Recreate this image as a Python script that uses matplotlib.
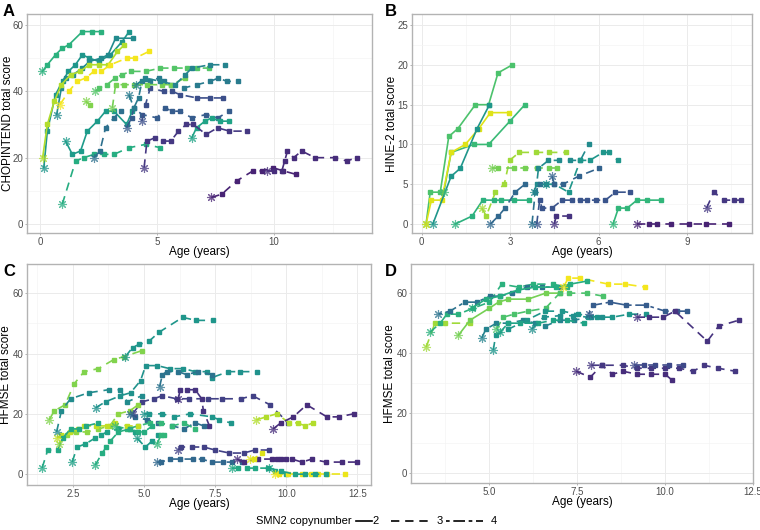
import numpy as np
import matplotlib
matplotlib.use("Agg")
import matplotlib.pyplot as plt
from matplotlib.lines import Line2D

plt.rcParams['font.family'] = ['Liberation Sans', 'DejaVu Sans']

# ---- panel A: CHOPINTEND ----
a_age = [
    [0.09, 0.3, 0.65, 0.94, 1.22, 1.8, 2.22, 2.58],
    [0.15, 0.3, 0.65, 0.95, 1.2, 1.5, 1.8, 2.1, 2.5, 3.0, 3.5, 3.8],
    [0.7, 0.9, 1.1, 1.4, 1.8, 2.1, 2.6, 2.9, 3.22, 3.97],
    [0.1, 0.3, 0.6, 0.9, 1.3, 1.7, 2.1, 2.5, 2.9, 3.3, 3.6],
    [0.84, 1.22, 1.58, 1.94, 2.29, 2.6, 3.0, 3.7, 4.06, 4.64],
    [1.08, 1.37, 1.72, 2.01, 2.44, 2.79, 3.15, 3.69, 3.93],
    [0.94, 1.51, 1.86, 2.3, 2.72, 3.15, 3.79, 4.5, 5.14],
    [2.29, 2.55, 2.79, 3.15, 3.43],
    [3.69, 3.9, 4.0, 4.35, 4.99, 5.34, 5.63, 5.98, 6.48, 7.09, 7.6, 8.06],
    [3.79, 4.0, 4.2, 4.35, 4.7, 5.06, 5.27, 5.6, 6.13, 6.7, 7.26, 7.62, 7.98, 8.47],
    [4.34, 4.5, 4.7, 5.27, 5.63, 5.98, 6.7, 7.26, 7.83],
    [2.36, 2.5, 2.85, 3.2, 3.5, 3.86, 4.5, 5.14, 5.71, 6.28, 6.7, 7.2],
    [1.94, 2.12],
    [3.08, 3.22, 3.58, 4.0, 4.57, 5.2, 5.6, 6.2],
    [4.1, 4.49, 5.13, 5.77, 6.2, 6.48, 7.26, 7.91],
    [6.48, 6.68, 7.04, 7.33, 7.69, 8.09],
    [4.44, 4.56, 4.91, 5.24, 5.58, 5.91, 6.24, 6.55, 7.09, 7.58, 8.09, 8.83],
    [7.31, 7.76, 8.4, 9.09, 9.5, 9.94, 10.4, 10.92],
    [9.69, 10.0, 10.33, 10.45, 10.57, 10.83, 11.18, 11.75, 12.61, 13.1, 13.53],
]
a_score = [
    [46, 48, 51, 53, 54, 58, 58, 58],
    [17, 28, 39, 43, 46, 48, 51, 50, 49, 51, 55, 58],
    [33, 41, 44, 45, 47, 49, 50, 51, 56, 56],
    [20, 30, 37, 42, 45, 46, 48, 48, 48, 52, 54],
    [36, 40, 43, 44, 46, 46, 48, 50, 50, 52],
    [25, 21, 22, 28, 31, 34, 34, 30, 34],
    [6, 19, 20, 21, 21, 21, 23, 24, 23],
    [20, 22, 29, 32, 34],
    [29, 32, 35, 33, 32, 35, 34, 34, 32, 33, 32, 34],
    [39, 35, 38, 43, 43, 44, 43, 42, 41, 42, 43, 44, 43, 43],
    [31, 36, 41, 40, 40, 39, 38, 38, 38],
    [40, 41, 42, 44, 45, 46, 46, 47, 47, 47, 47, 47],
    [37, 36],
    [35, 42, 42, 42, 42, 42, 42, 44],
    [42, 44, 43, 42, 45, 47, 48, 48],
    [26, 29, 31, 32, 31, 31],
    [17, 25, 26, 25, 25, 28, 30, 30, 27, 29, 28, 28],
    [8, 9, 13, 16, 16, 17, 16, 15],
    [16, 16, 16, 19, 22, 20, 22, 20, 20, 19, 20],
]
a_col = [0.62, 0.5, 0.45, 0.88, 0.98, 0.52, 0.6, 0.33, 0.25, 0.38, 0.2,
         0.72, 0.8, 0.78, 0.42, 0.56, 0.12, 0.05, 0.08]
a_copy = [2, 2, 2, 2, 3, 2, 3, 3, 3, 3, 3, 3, 3, 3, 3, 2, 3, 3, 3]

# ---- panel B: HINE-2 ----
b_age = [
    [0.15, 0.29, 0.63, 0.92, 1.23, 1.82, 2.27, 2.59, 3.07],
    [0.75, 1.0, 1.77, 2.27, 3.01, 3.5],
    [0.15, 0.33, 0.68, 1.0, 1.48, 1.94, 2.33, 2.95],
    [0.38, 1.0, 1.31, 1.88, 2.3],
    [1.14, 1.71, 2.07, 2.45, 2.7, 3.12, 3.63],
    [6.49, 6.67, 6.97, 7.3, 7.65, 8.1],
    [2.04, 2.19, 2.5, 2.8, 2.98, 3.31, 3.86, 4.31, 4.88],
    [2.39, 2.59, 3.12, 3.5, 3.92, 4.31, 4.6],
    [2.33, 2.6, 2.83, 3.17, 3.5],
    [3.8, 3.9, 3.96, 4.3, 4.64, 5.04, 5.38, 5.66],
    [4.2, 4.5, 4.98, 5.38, 5.7, 6.15, 6.34, 6.65],
    [4.42, 4.5, 4.79, 5.32, 6.0],
    [3.9, 4.0, 4.08, 4.42, 4.76, 5.1, 5.38, 5.6, 5.92, 6.23, 6.57, 7.08],
    [4.5, 4.56, 4.98],
    [3.74, 3.85, 4.0, 4.2],
    [7.3, 7.7, 7.98, 8.44, 9.06, 9.63, 10.42],
    [9.66, 9.9, 10.25, 10.6, 10.84],
]
b_score = [
    [0, 4, 4, 11, 12, 15, 15, 19, 20],
    [4, 9, 10, 10, 13, 15],
    [0, 3, 3, 9, 10, 12, 14, 14],
    [0, 6, 7, 12, 15],
    [0, 1, 3, 3, 3, 3, 3],
    [0, 2, 2, 3, 3, 3],
    [2, 1, 4, 5, 8, 9, 9, 9, 9],
    [7, 7, 7, 7, 7, 7, 7],
    [0, 1, 2, 4, 5],
    [4, 5, 7, 8, 8, 8, 8, 10],
    [5, 5, 4, 8, 8, 9, 9, 8],
    [6, 5, 5, 6, 7],
    [0, 3, 2, 2, 3, 3, 3, 3, 3, 3, 4, 4],
    [0, 1, 1],
    [0, 4, 5, 5],
    [0, 0, 0, 0, 0, 0, 0],
    [2, 4, 3, 3, 3],
]
b_col = [0.7, 0.66, 0.95, 0.5, 0.62, 0.64, 0.85, 0.78, 0.3, 0.45, 0.5,
         0.28, 0.22, 0.1, 0.34, 0.05, 0.12]
b_copy = [2, 2, 2, 2, 2, 2, 3, 3, 3, 3, 3, 3, 3, 3, 3, 3, 3]

# ---- panel C: HFMSE ----
c_age = [
    [4.35, 4.6, 4.82, 5.17, 5.52, 6.36, 6.83, 7.42],
    [1.67, 1.85, 2.23, 2.55, 2.9, 3.4, 3.94, 4.3, 4.94],
    [1.93, 2.1, 2.42, 3.06, 3.76, 4.17, 4.41, 4.93],
    [3.3, 3.65, 4.17, 4.53, 4.88, 5.06, 5.47, 5.9, 6.39, 6.8, 7.21, 7.38, 7.97, 8.38, 8.99],
    [5.55, 5.65, 5.8, 6.2, 6.5, 6.9, 7.4],
    [4.6, 4.93, 5.35, 5.64, 6.15, 6.6, 7.26, 7.73, 8.4, 8.82, 9.43, 10.07],
    [6.21, 6.27, 6.5, 6.8, 7.03, 7.09, 7.3],
    [5.0, 5.17, 5.64, 6.05, 6.62, 7.4, 7.65, 8.05],
    [4.5, 4.7, 5.1, 5.5, 6.0, 6.4, 6.8, 7.1],
    [4.0, 4.4, 4.8, 5.2, 5.6, 6.0, 6.4, 6.8],
    [2.0, 2.3, 2.6, 3.0, 3.4, 3.8, 4.1, 4.5, 4.8],
    [1.95, 2.1, 2.4, 2.7, 2.9, 3.3, 3.7, 4.0, 4.4, 4.8],
    [1.42, 1.62, 1.97, 2.15, 2.42, 2.71, 2.98, 3.4],
    [2.48, 2.65, 2.94, 3.29, 3.5, 3.7, 4.1, 4.5, 4.7],
    [3.29, 3.53, 3.68, 3.82, 4.1, 4.5, 4.8, 5.0, 5.3],
    [4.75, 5.05, 5.29, 5.5],
    [5.46, 5.6, 5.7],
    [6.2, 6.3, 6.7, 7.1, 7.5, 8.0, 8.5, 8.9, 9.4],
    [5.45, 5.6, 5.92, 6.27, 6.74, 7.03, 7.38, 7.79, 8.09, 8.44],
    [8.26, 8.5, 9.0, 9.5, 9.66, 9.83, 10.0, 10.2, 10.55, 10.9, 11.4, 11.95, 12.48],
    [8.09, 8.3, 8.61, 8.9, 9.37, 9.6, 10.0],
    [9.6, 9.75, 10.07, 10.55, 10.86, 11.1, 11.42, 12.07],
    [9.4, 9.8, 10.3, 10.66, 11.0, 11.4],
    [8.73, 8.85, 9.14],
    [8.95, 9.3, 9.66, 10.11, 10.4, 10.66, 10.95],
    [9.54, 9.81, 10.25, 10.72, 11.43, 11.84, 12.37],
]
c_score = [
    [39, 42, 43, 44, 47, 52, 51, 51],
    [18, 21, 23, 30, 34, 35, 38, 39, 41],
    [14, 21, 25, 27, 28, 28, 24, 26],
    [22, 24, 26, 27, 31, 36, 36, 35, 35, 34, 34, 32, 34, 34, 34],
    [29, 33, 34, 34, 33, 34, 33],
    [20, 24, 25, 26, 25, 25, 25, 25, 25, 26, 23, 17],
    [25, 28, 28, 28, 25, 21, 16],
    [20, 20, 20, 19, 20, 19, 18, 17],
    [20, 19, 18, 17, 16, 15, 17, 16],
    [16, 15, 16, 17, 17, 16, 17, 15],
    [10, 13, 14, 14, 15, 16, 20, 21, 23],
    [12, 13, 14, 15, 16, 16, 16, 17, 16, 16],
    [2, 8, 8, 12, 15, 15, 16, 17],
    [4, 9, 10, 12, 13, 14, 15, 15, 14],
    [3, 7, 9, 11, 14, 15, 14, 14, 16],
    [12, 9, 11, 13],
    [10, 13, 13],
    [8, 9, 9, 9, 8, 7, 7, 8, 8],
    [4, 4, 5, 5, 5, 5, 4, 4, 4, 4],
    [5, 4, 5, 5, 5, 5, 5, 5, 4, 5, 4, 4, 4],
    [2, 2, 2, 2, 2, 1, 0],
    [0, 0, 0, 0, 0, 0, 0, 0],
    [2, 1, 0, 0, 0, 0],
    [5, 5, 7],
    [18, 19, 20, 17, 17, 16, 17],
    [15, 17, 19, 23, 19, 19, 20],
]
c_col = [0.5, 0.8, 0.45, 0.48, 0.35, 0.15, 0.1, 0.5, 0.32, 0.65, 0.82, 0.9,
         0.58, 0.55, 0.6, 0.52, 0.64, 0.15, 0.3, 0.08, 0.58, 0.97, 0.55, 0.95,
         0.88, 0.08]
c_copy = [3] * len(c_col)

# ---- panel D: HFMSE ----
d_age = [
    [3.2, 3.45, 3.75, 4.45],
    [4.12, 4.45, 5.0, 5.26, 5.54, 6.1, 6.6, 7.0],
    [5.2, 5.4, 5.7, 6.1, 6.6, 7.0, 7.27, 7.77, 8.24],
    [7.1, 7.25, 7.58, 8.38, 8.86, 9.43],
    [3.31, 3.6, 3.79, 4.12, 4.54, 5.0, 5.35, 5.83, 6.25, 6.8, 7.2],
    [3.55, 3.88, 4.3, 4.64, 5.02, 5.3, 5.64, 6.06, 6.5, 7.0],
    [4.5, 4.9, 5.3, 5.8, 6.3, 6.9, 7.3, 7.77],
    [4.78, 4.9, 5.2, 5.54, 5.97, 6.3, 6.58, 7.0, 7.4, 7.9],
    [5.11, 5.18, 5.54, 6.06, 6.58, 7.06, 7.53, 8.05, 8.5, 8.98, 9.45],
    [5.3, 5.54, 5.87, 6.39, 6.82, 7.2, 7.68],
    [6.2, 6.54, 7.01, 7.39, 7.8, 8.2],
    [7.82, 7.96, 8.43, 8.9, 9.45, 10.0, 10.33, 10.62],
    [9.19, 9.53, 9.95, 10.28, 11.2, 11.52, 12.1],
    [7.47, 7.87, 8.2, 8.5, 8.8, 9.2, 9.6, 10.0, 10.2],
    [7.9, 8.2, 8.8, 9.2, 9.6, 10.0, 10.4, 10.8, 11.1, 11.5, 12.0],
    [9.1, 9.4, 9.7, 10.1, 10.5],
]
d_score = [
    [42, 50, 50, 50],
    [46, 51, 55, 57, 58, 58, 60, 60],
    [48, 52, 53, 54, 55, 60, 60, 60, 59],
    [62, 65, 65, 63, 63, 62],
    [47, 50, 53, 53, 55, 57, 63, 62, 63, 63, 62],
    [53, 54, 57, 57, 59, 59, 60, 62, 62, 62],
    [55, 58, 59, 61, 62, 62, 63, 64],
    [45, 48, 50, 50, 51, 50, 49, 51, 51, 52],
    [41, 46, 48, 51, 54, 54, 53, 52, 52, 53, 53],
    [47, 50, 50, 50, 51, 51, 50],
    [48, 52, 52.5, 52.5, 52, 52],
    [53, 56, 57, 56, 56, 54, 54, 54],
    [52, 52, 52, 54, 44, 49, 51],
    [34, 32, 36, 33, 34, 33, 33, 33, 31],
    [36, 36, 36, 35, 35, 35, 35, 34, 36, 35, 34],
    [36, 36, 36, 36, 36],
]
d_col = [0.85, 0.78, 0.7, 0.98, 0.62, 0.35, 0.6, 0.42, 0.5, 0.56, 0.47,
         0.25, 0.1, 0.08, 0.12, 0.18]
d_copy = [3, 2, 3, 3, 3, 4, 2, 3, 3, 3, 3, 4, 3, 3, 3, 3]

styles = {2: '-', 3: (0, (5, 3.5)), 4: (0, (2.2, 2.2, 7, 2.2))}
cmap = plt.get_cmap('viridis')


def draw(ax, ages, scores, cols, copies):
    for x, y, c, k in zip(ages, scores, cols, copies):
        col = cmap(0.05 + 0.95 * c)
        ax.plot(x, y, color=col, lw=1.2, ls=styles[k], marker='s', ms=3.3,
                markevery=slice(1, None), zorder=3)
        ax.plot(x[0], y[0], ls='none', marker=(8, 2, 0), ms=6.5, mew=0.8,
                mec=col, alpha=0.75, zorder=4)


def style(ax, xlim, ylim, xmaj, xmin, ymaj, ymin, ylabel, ylx, xly):
    ax.set_xlim(*xlim)
    ax.set_ylim(*ylim)
    ax.set_xticks(xmaj)
    ax.set_xticks(xmin, minor=True)
    ax.set_yticks(ymaj)
    ax.set_yticks(ymin, minor=True)
    ax.grid(True, which='major', color='#ebebeb', lw=0.7, zorder=0)
    ax.grid(True, which='minor', color='#f4f4f4', lw=0.5, zorder=0)
    ax.set_axisbelow(True)
    for s in ax.spines.values():
        s.set_color('#b3b3b3')
        s.set_linewidth(1.0)
    ax.tick_params(which='major', length=1.5, color='#b3b3b3', width=0.7,
                   labelsize=7, labelcolor='#4d4d4d', pad=1.2)
    ax.tick_params(which='minor', length=0)
    ax.set_xlabel('Age (years)', fontsize=8.5, va='center')
    ax.set_ylabel(ylabel, fontsize=8.5, va='center')
    ax.xaxis.set_label_coords(0.5, xly)
    ax.yaxis.set_label_coords(ylx, 0.5)


fig = plt.figure(figsize=(7.6, 5.3), dpi=100)
axA = fig.add_axes([0.0355, 0.5604, 0.4535, 0.4132])
axB = fig.add_axes([0.542, 0.5604, 0.4475, 0.4132])
axC = fig.add_axes([0.0355, 0.0849, 0.4527, 0.417])
axD = fig.add_axes([0.5408, 0.0887, 0.45, 0.4132])

draw(axA, a_age, a_score, a_col, a_copy)
draw(axB, b_age, b_score, b_col, b_copy)
draw(axC, c_age, c_score, c_col, c_copy)
draw(axD, d_age, d_score, d_col, d_copy)

style(axA, (-0.57, 14.17), (-2.7, 63.3), [0, 5, 10], [2.5, 7.5, 12.5],
      [0, 20, 40, 60], [10, 30, 50], 'CHOPINTEND total score', -0.055, -0.088)
style(axB, (-0.33, 11.2), (-1.13, 26.4), [0, 3, 6, 9], [1.5, 4.5, 7.5, 10.5],
      [0, 5, 10, 15, 20, 25], [2.5, 7.5, 12.5, 17.5, 22.5],
      'HINE-2 total score', -0.059, -0.088)
style(axC, (0.89, 12.98), (-3.6, 69.7), [2.5, 5.0, 7.5, 10.0, 12.5],
      [1.25, 3.75, 6.25, 8.75, 11.25], [0, 20, 40, 60], [10, 30, 50],
      'HFMSE total score', -0.06, -0.087)
style(axD, (2.77, 12.5), (-3.2, 69.7), [5.0, 7.5, 10.0, 12.5],
      [3.75, 6.25, 8.75, 11.25], [0, 20, 40, 60], [10, 30, 50],
      'HFMSE total score', -0.061, -0.086)

for lab, xx, yy in [('A', 0.004, 0.993), ('B', 0.507, 0.993),
                    ('C', 0.004, 0.501), ('D', 0.507, 0.501)]:
    fig.text(xx, yy, lab, fontsize=12, fontweight='bold', va='top', ha='left')

# legend
ly = 1 - 521 / 530
fig.text(352 / 760, ly, 'SMN2 copynumber', fontsize=8, ha='right', va='center')
for k, x0, x1, xt in [(2, 356, 372, 376), (3, 391, 433, 440), (4, 446, 483, 494)]:
    fig.add_artist(Line2D([x0 / 760, x1 / 760], [ly, ly], color='black',
                          lw=1.2, ls=styles[k]))
    fig.text(xt / 760, ly, str(k), fontsize=8, ha='center', va='center')

fig.savefig('out.png', dpi=100)
